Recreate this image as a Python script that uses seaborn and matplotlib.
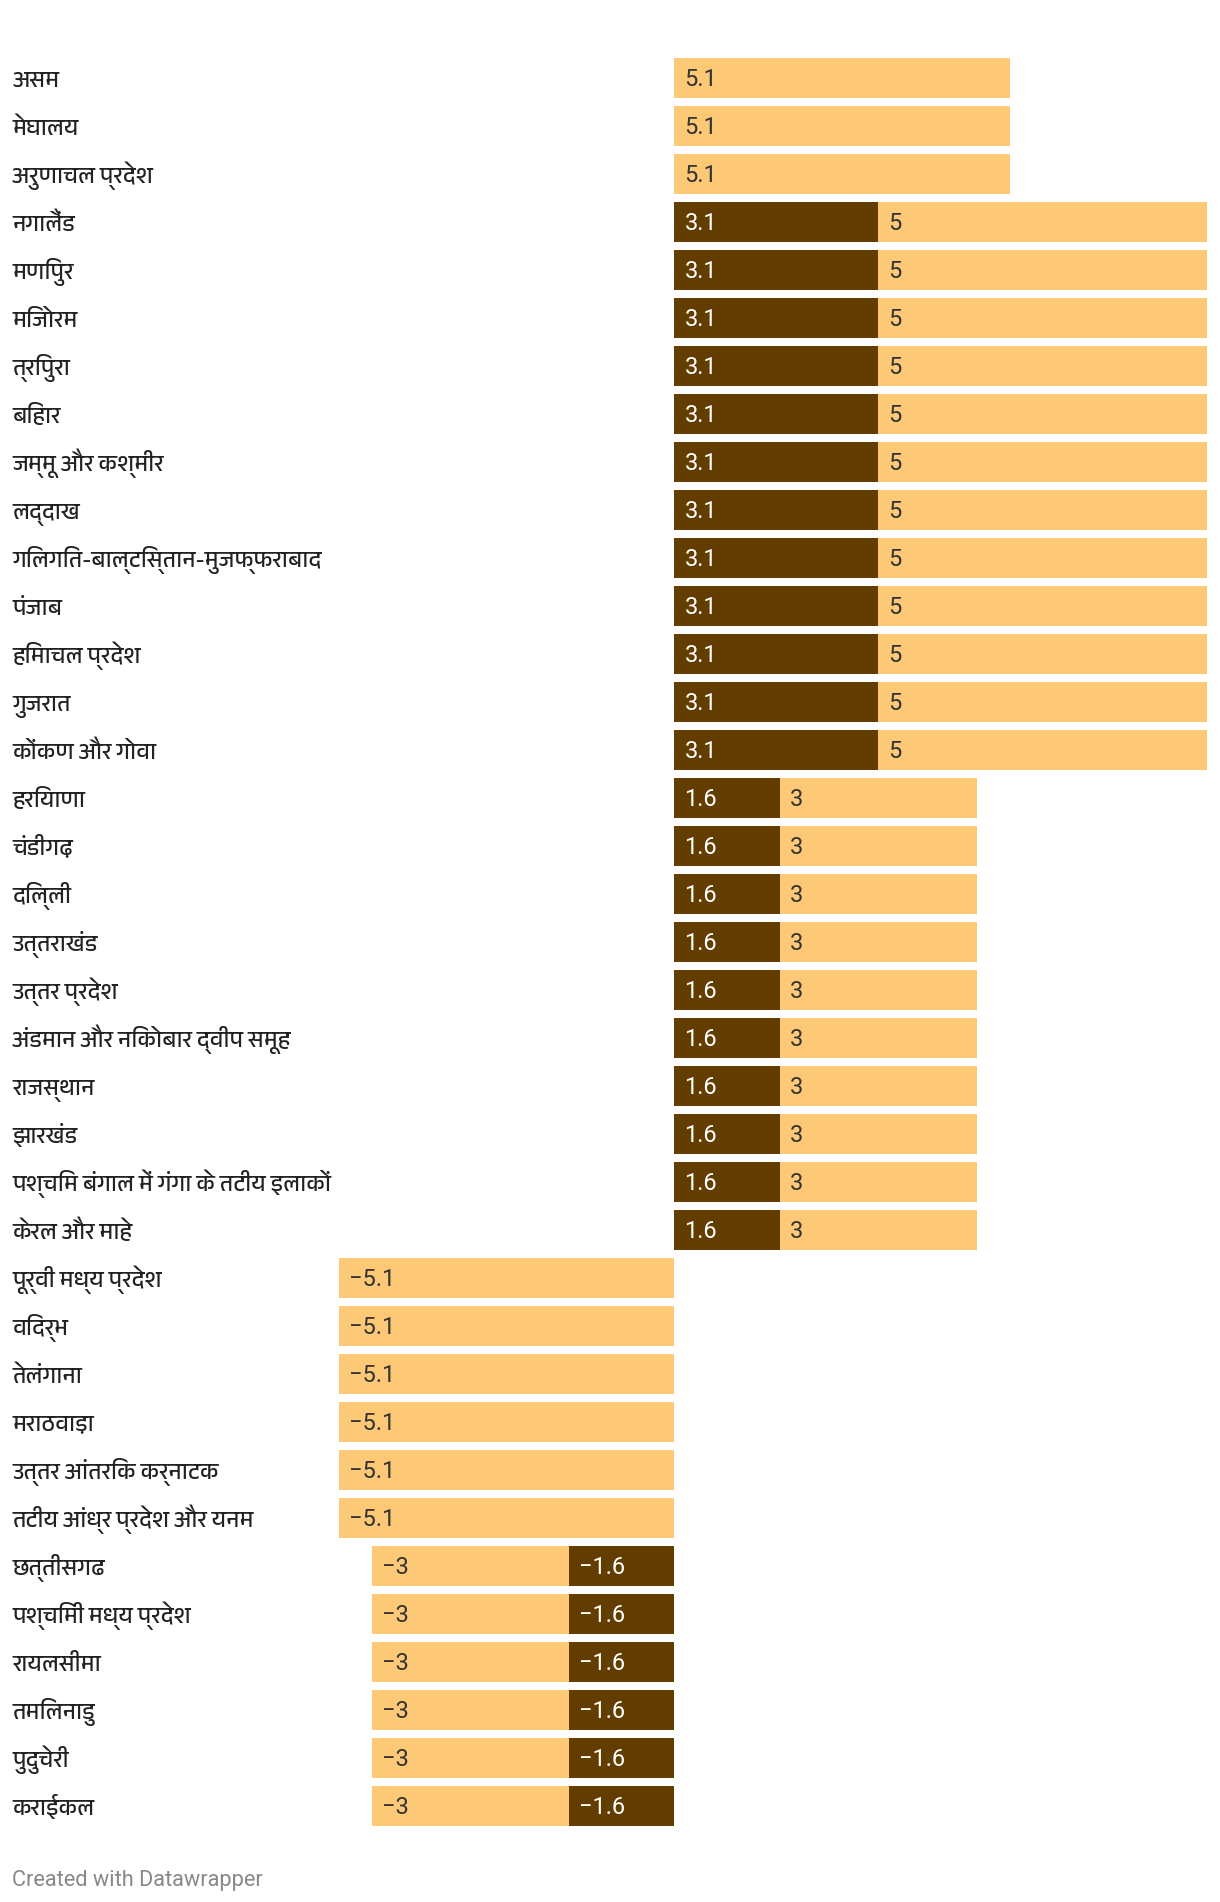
import matplotlib
matplotlib.use("Agg")

import matplotlib.pyplot as plt
import matplotlib.transforms as mtransforms
import numpy as np
import pandas as pd
import seaborn as sns
from matplotlib import font_manager as fm
from matplotlib.ft2font import FT2Font


regions = [
    "असम", "मेघालय", "अरुणाचल प्रदेश", "नगालैंड", "मणिपुर", "मिजोरम",
    "त्रिपुरा", "बिहार", "जम्मू और कश्मीर", "लद्दाख",
    "गिलगित-बाल्टिस्तान-मुजफ्फराबाद", "पंजाब", "हिमाचल प्रदेश", "गुजरात",
    "कोंकण और गोवा", "हरियाणा", "चंडीगढ़", "दिल्ली", "उत्तराखंड",
    "उत्तर प्रदेश", "अंडमान और निकोबार द्वीप समूह", "राजस्थान", "झारखंड",
    "पश्चिम बंगाल में गंगा के तटीय इलाकों", "केरल और माहे",
    "पूर्वी मध्य प्रदेश", "विदर्भ", "तेलंगाना", "मराठवाड़ा",
    "उत्तर आंतरिक कर्नाटक", "तटीय आंध्र प्रदेश और यनम", "छत्तीसगढ",
    "पश्चिमी मध्य प्रदेश", "रायलसीमा", "तमिलनाडु", "पुदुचेरी", "कराईकल",
]

# dark segment (drawn next to zero)
dark_vals = [
    0, 0, 0, 3.1, 3.1, 3.1, 3.1, 3.1, 3.1, 3.1, 3.1, 3.1, 3.1, 3.1, 3.1,
    1.6, 1.6, 1.6, 1.6, 1.6, 1.6, 1.6, 1.6, 1.6, 1.6,
    0, 0, 0, 0, 0, 0,
    -1.6, -1.6, -1.6, -1.6, -1.6, -1.6,
]
# light segment (stacked after the dark one)
light_vals = [
    5.1, 5.1, 5.1, 5, 5, 5, 5, 5, 5, 5, 5, 5, 5, 5, 5,
    3, 3, 3, 3, 3, 3, 3, 3, 3, 3,
    -5.1, -5.1, -5.1, -5.1, -5.1, -5.1,
    -3, -3, -3, -3, -3, -3,
]

DARK = "#633d00"
LIGHT = "#fec976"


def find_devanagari_font() -> str | None:
    paths = fm.findSystemFonts()
    paths = sorted(paths, key=lambda p: (0 if "devanagari" in p.lower() else 1, p))
    for path in paths:
        try:
            font = FT2Font(path)
            if 0x0905 in font.get_charmap():
                fm.fontManager.addfont(path)
                return fm.FontProperties(fname=path).get_name()
        except Exception:
            continue
    return None


sns.set_theme(style="white")
deva = find_devanagari_font()
label_family = ([deva] if deva else []) + ["Noto Sans", "DejaVu Sans"]
plt.rcParams["font.family"] = ["Roboto", "DejaVu Sans"]

df = pd.DataFrame({"region": regions, "dark": dark_vals, "light": light_vals})
df["total"] = df["dark"] + df["light"]

W, H = 1220, 1902
fig = plt.figure(figsize=(W / 100, H / 100), dpi=100)
ax = fig.add_axes([0, 0, 1, 1])

zero_px, unit_px = 674.5, 65.8
top_px, pitch_px = 78.0, 48.0

sns.barplot(data=df, x="total", y="region", order=regions, color=LIGHT,
            saturation=1, width=40 / 48, linewidth=0, ax=ax)
sns.barplot(data=df, x="dark", y="region", order=regions, color=DARK,
            saturation=1, width=40 / 48, linewidth=0, ax=ax)

ax.set_xlim(-zero_px / unit_px, (W - zero_px) / unit_px)
ax.set_ylim((H - top_px) / pitch_px, -top_px / pitch_px)
ax.axis("off")

value_tr = mtransforms.offset_copy(ax.transData, fig=fig, x=10, y=-8.3, units="dots")
label_tr = mtransforms.offset_copy(ax.get_yaxis_transform(), fig=fig, x=0, y=-8.5,
                                   units="dots")


def fmt(v: float) -> str:
    return f"{v:g}".replace("-", "\u2212")


for i, row in df.iterrows():
    ax.text(12.5 / W, i, row["region"], transform=label_tr,
            ha="left", va="baseline", fontsize=16.5, color="#222222",
            family=label_family)
    if row["dark"] != 0:
        ax.text(min(0, row["dark"]), i, fmt(row["dark"]), transform=value_tr,
                ha="left", va="baseline", fontsize=17, color="white")
    left_light = min(row["dark"], row["total"])
    ax.text(left_light, i, fmt(row["light"]), transform=value_tr,
            ha="left", va="baseline", fontsize=17, color="#333333")

fig.text(12 / W, 1 - 1886 / H, "Created with Datawrapper", ha="left",
         va="baseline", fontsize=15.7, color="#888888")

fig.savefig("out.png", dpi=100)
